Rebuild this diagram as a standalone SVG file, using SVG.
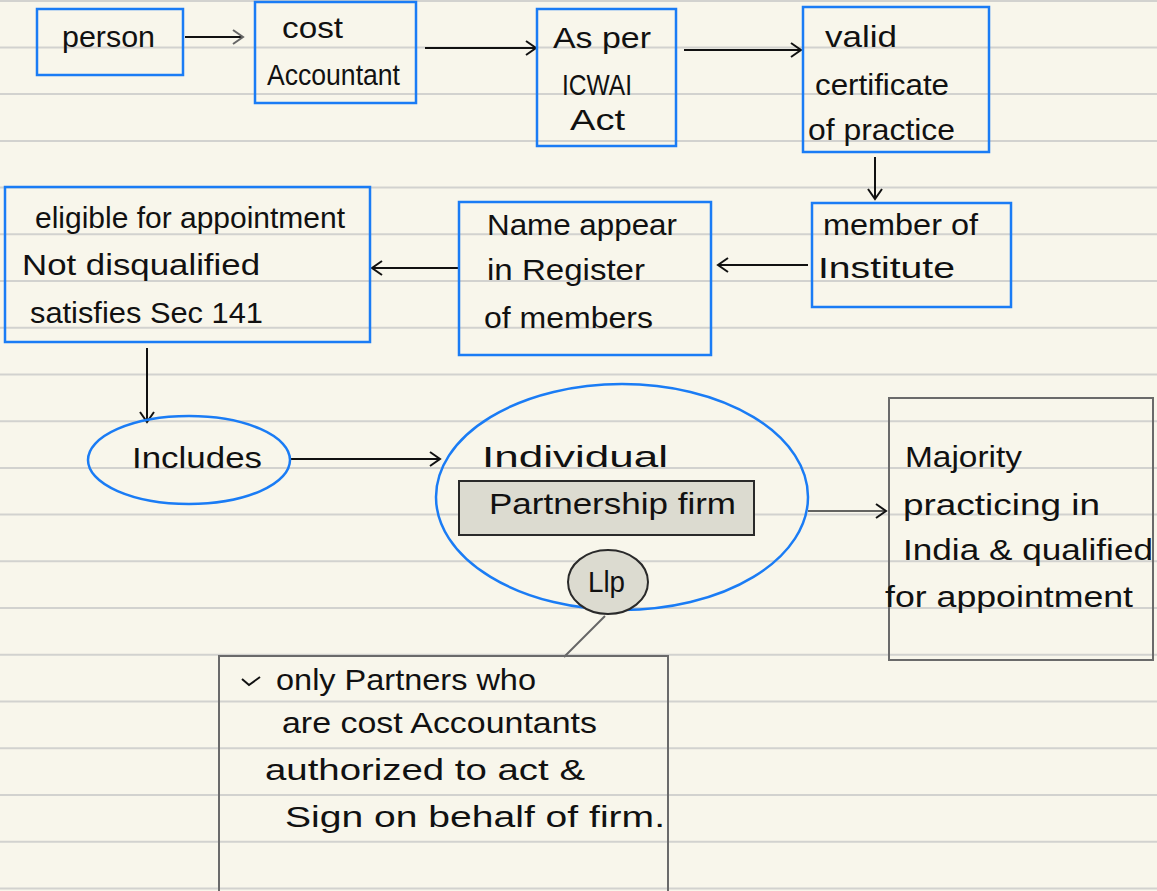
<svg xmlns="http://www.w3.org/2000/svg" width="1157" height="891" viewBox="0 0 1157 891">
<defs>
<style>
.bg{fill:#f8f6eb}
.rule{stroke:#d2d2cf;stroke-width:2}
.bx{fill:none;stroke:#1a7cf5;stroke-width:2.5}
.gb{fill:none;stroke:#6a6a6a;stroke-width:2}
.gray{fill:#dcdbd0;stroke:#2a2a2a;stroke-width:2}
.t{font-family:"Liberation Sans",Arial,sans-serif;font-size:29px;fill:#111}
.c{stroke:#111;stroke-width:2;fill:none}
</style>
<marker id="ah" markerWidth="14" markerHeight="16" refX="12" refY="8" orient="auto" markerUnits="userSpaceOnUse">
<path d="M2,1 L12,8 L2,15" fill="none" stroke="#111" stroke-width="2"/>
</marker>
<marker id="ahg" markerWidth="14" markerHeight="16" refX="12" refY="8" orient="auto" markerUnits="userSpaceOnUse">
<path d="M2,1 L12,8 L2,15" fill="none" stroke="#666" stroke-width="2"/>
</marker>
</defs>
<rect class="bg" x="0" y="0" width="1157" height="891"/>
<g id="rules">
<line class="rule" x1="0" y1="1" x2="1157" y2="1"/>
<line class="rule" x1="0" y1="47.4" x2="1157" y2="47.4"/>
<line class="rule" x1="0" y1="94.1" x2="1157" y2="94.1"/>
<line class="rule" x1="0" y1="140.9" x2="1157" y2="140.9"/>
<line class="rule" x1="0" y1="187.6" x2="1157" y2="187.6"/>
<line class="rule" x1="0" y1="234.3" x2="1157" y2="234.3"/>
<line class="rule" x1="0" y1="281" x2="1157" y2="281"/>
<line class="rule" x1="0" y1="327.7" x2="1157" y2="327.7"/>
<line class="rule" x1="0" y1="374.5" x2="1157" y2="374.5"/>
<line class="rule" x1="0" y1="421.2" x2="1157" y2="421.2"/>
<line class="rule" x1="0" y1="467.9" x2="1157" y2="467.9"/>
<line class="rule" x1="0" y1="514.6" x2="1157" y2="514.6"/>
<line class="rule" x1="0" y1="561.3" x2="1157" y2="561.3"/>
<line class="rule" x1="0" y1="608.1" x2="1157" y2="608.1"/>
<line class="rule" x1="0" y1="654.8" x2="1157" y2="654.8"/>
<line class="rule" x1="0" y1="701.5" x2="1157" y2="701.5"/>
<line class="rule" x1="0" y1="748.2" x2="1157" y2="748.2"/>
<line class="rule" x1="0" y1="794.9" x2="1157" y2="794.9"/>
<line class="rule" x1="0" y1="841.7" x2="1157" y2="841.7"/>
<line class="rule" x1="0" y1="888.4" x2="1157" y2="888.4"/>
</g>
<g id="connectors">
<line x1="185" y1="37" x2="243" y2="37" stroke="#111" stroke-width="2" marker-end="url(#ahg)"/>
<line x1="425" y1="48" x2="536" y2="48" stroke="#111" stroke-width="2" marker-end="url(#ah)"/>
<line x1="684" y1="50" x2="801" y2="50" stroke="#111" stroke-width="2" marker-end="url(#ah)"/>
<line x1="875" y1="157" x2="875" y2="199" stroke="#111" stroke-width="2" marker-end="url(#ah)"/>
<line x1="808" y1="265" x2="718" y2="265" stroke="#111" stroke-width="2" marker-end="url(#ah)"/>
<line x1="458" y1="268" x2="372" y2="268" stroke="#111" stroke-width="2" marker-end="url(#ah)"/>
<line x1="147" y1="348" x2="147" y2="422" stroke="#111" stroke-width="2" marker-end="url(#ah)"/>
<line x1="291" y1="459" x2="440" y2="459" stroke="#111" stroke-width="2" marker-end="url(#ah)"/>
<line x1="808" y1="511" x2="886" y2="511" stroke="#333" stroke-width="1.5" marker-end="url(#ah)"/>
<line x1="605" y1="616" x2="564" y2="657" stroke="#666" stroke-width="2"/>
</g>
<g id="person">
<rect class="bx" x="37" y="9" width="146" height="66"/>
<text class="t" x="62" y="47" textLength="93" lengthAdjust="spacingAndGlyphs">person</text>
</g>
<g id="cost-accountant">
<rect class="bx" x="255" y="2" width="161" height="101"/>
<text class="t" x="282" y="38" textLength="61" lengthAdjust="spacingAndGlyphs">cost</text>
<text class="t" x="267" y="85" textLength="133" lengthAdjust="spacingAndGlyphs">Accountant</text>
</g>
<g id="icwai-act">
<rect class="bx" x="537" y="9" width="139" height="137"/>
<text class="t" x="553" y="48" textLength="98" lengthAdjust="spacingAndGlyphs">As per</text>
<text class="t" x="562" y="95" textLength="70" lengthAdjust="spacingAndGlyphs">ICWAI</text>
<text class="t" x="570" y="130" textLength="55" lengthAdjust="spacingAndGlyphs">Act</text>
</g>
<g id="valid-certificate">
<rect class="bx" x="803" y="7" width="186" height="145"/>
<text class="t" x="825" y="47" textLength="72" lengthAdjust="spacingAndGlyphs">valid</text>
<text class="t" x="815" y="95" textLength="134" lengthAdjust="spacingAndGlyphs">certificate</text>
<text class="t" x="808" y="140" textLength="147" lengthAdjust="spacingAndGlyphs">of practice</text>
</g>
<g id="member-institute">
<rect class="bx" x="812" y="203" width="199" height="104"/>
<text class="t" x="823" y="235" textLength="155" lengthAdjust="spacingAndGlyphs">member of</text>
<text class="t" x="818" y="278" textLength="137" lengthAdjust="spacingAndGlyphs">Institute</text>
</g>
<g id="register">
<rect class="bx" x="459" y="202" width="252" height="153"/>
<text class="t" x="487" y="235" textLength="190" lengthAdjust="spacingAndGlyphs">Name appear</text>
<text class="t" x="487" y="280" textLength="158" lengthAdjust="spacingAndGlyphs">in Register</text>
<text class="t" x="484" y="328" textLength="169" lengthAdjust="spacingAndGlyphs">of members</text>
</g>
<g id="eligible">
<rect class="bx" x="5" y="187" width="365" height="155"/>
<text class="t" x="35" y="228" textLength="310" lengthAdjust="spacingAndGlyphs">eligible for appointment</text>
<text class="t" x="22" y="275" textLength="238" lengthAdjust="spacingAndGlyphs">Not disqualified</text>
<text class="t" x="30" y="323" textLength="233" lengthAdjust="spacingAndGlyphs">satisfies Sec 141</text>
</g>
<g id="includes">
<ellipse class="bx" cx="189" cy="460" rx="101" ry="44"/>
<text class="t" x="132" y="468" textLength="130" lengthAdjust="spacingAndGlyphs">Includes</text>
</g>
<g id="entities">
<ellipse class="bx" cx="622" cy="497" rx="186" ry="113"/>
<text class="t" x="482" y="467" textLength="186" lengthAdjust="spacingAndGlyphs">Individual</text>
<rect class="gray" x="459" y="481" width="295" height="54"/>
<text class="t" x="489" y="514" textLength="247" lengthAdjust="spacingAndGlyphs">Partnership firm</text>
<ellipse class="gray" cx="608" cy="582" rx="40" ry="32"/>
<text class="t" x="588" y="592" textLength="37" lengthAdjust="spacingAndGlyphs">Llp</text>
</g>
<g id="majority">
<rect class="gb" x="889" y="398" width="264" height="262"/>
<text class="t" x="905" y="467" textLength="117" lengthAdjust="spacingAndGlyphs">Majority</text>
<text class="t" x="903" y="515" textLength="197" lengthAdjust="spacingAndGlyphs">practicing in</text>
<text class="t" x="903" y="560" textLength="250" lengthAdjust="spacingAndGlyphs">India &amp; qualified</text>
<text class="t" x="885" y="607" textLength="248" lengthAdjust="spacingAndGlyphs">for appointment</text>
</g>
<g id="llp-note">
<rect class="gb" x="219" y="656" width="449" height="240"/>
<path d="M242,679 L249,685 L260,677" class="c"/>
<text class="t" x="276" y="690" textLength="260" lengthAdjust="spacingAndGlyphs">only Partners who</text>
<text class="t" x="282" y="733" textLength="315" lengthAdjust="spacingAndGlyphs">are cost Accountants</text>
<text class="t" x="265" y="780" textLength="320" lengthAdjust="spacingAndGlyphs">authorized to act &amp;</text>
<text class="t" x="285" y="827" textLength="380" lengthAdjust="spacingAndGlyphs">Sign on behalf of firm.</text>
</g>
</svg>
